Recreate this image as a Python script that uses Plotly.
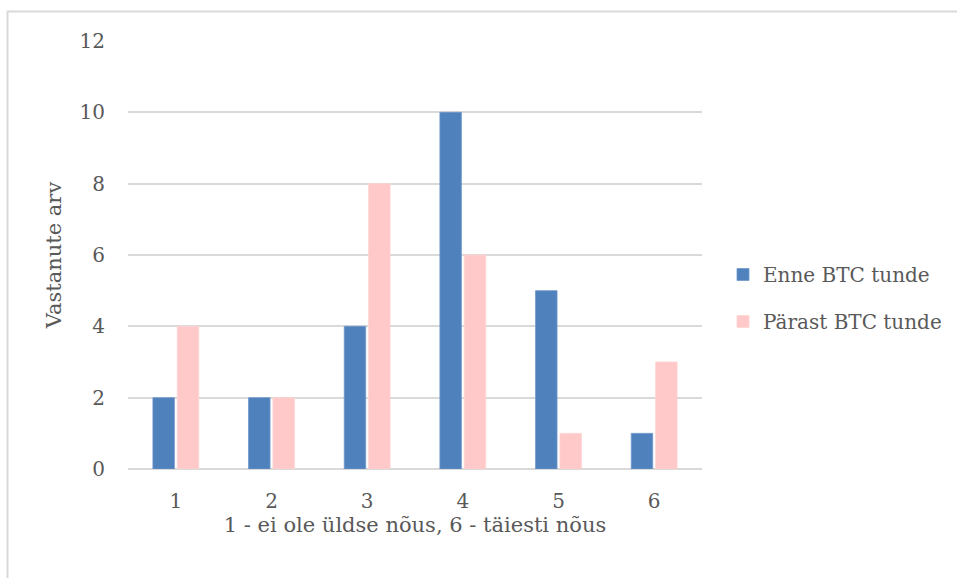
import plotly.graph_objects as go

categories = ["1", "2", "3", "4", "5", "6"]
enne = [2, 2, 4, 10, 5, 1]
parast = [4, 2, 8, 6, 1, 3]
series_names = ["Enne BTC tunde", "Pärast BTC tunde"]
y_ticks = [0, 2, 4, 6, 8, 10, 12]

W, H = 957, 578
L, R, T, B = 128, 702, 41, 469
FONT = "DejaVu Serif"
TXT = "#595959"

fig = go.Figure()
fig.add_trace(go.Bar(x=categories, y=enne, name=series_names[0], legendgroup="a",
                     marker=dict(color="#4f81bd", line=dict(color="#6f97cc", width=0.8))))
fig.add_trace(go.Bar(x=categories, y=parast, name=series_names[1], legendgroup="b",
                     marker=dict(color="#ffc9c9", line=dict(color="#ffd3d3", width=0.8))))

pw = R - L
ph = B - T
fig.update_layout(
    width=W, height=H,
    margin=dict(l=L, r=W - R, t=T, b=H - B, pad=0, autoexpand=False),
    paper_bgcolor="white", plot_bgcolor="white",
    barmode="group", bargap=0.49, bargroupgap=0.12,
    font=dict(family=FONT, size=20, color=TXT),
    showlegend=True,
    legend=dict(x=(723 - L) / pw, xanchor="left", y=(B - 298) / ph, yanchor="middle",
                font=dict(family=FONT, size=20, color=TXT), tracegroupgap=18,
                bgcolor="rgba(0,0,0,0)"),
    xaxis=dict(title=dict(text="1 - ei ole üldse nõus, 6 - täiesti nõus", standoff=0,
                          font=dict(family=FONT, size=21, color=TXT)),
               showgrid=False, zeroline=False, showline=False, ticks="",
               tickfont=dict(family=FONT, size=20, color=TXT), ticklabelstandoff=18),
    yaxis=dict(title=dict(text="Vastanute arv", standoff=12,
                          font=dict(family=FONT, size=21, color=TXT)),
               range=[0, 12], tickvals=y_ticks, showgrid=True, gridcolor="#d9d9d9", gridwidth=1.5,
               zeroline=False, showline=False, ticks="",
               tickfont=dict(family=FONT, size=20, color=TXT), ticklabelstandoff=22),
)
fig.add_shape(type="line", xref="paper", yref="paper", x0=0, x1=1, y0=0, y1=0,
              line=dict(color="#d9d9d9", width=2), layer="below")
fig.add_shape(type="rect", xref="paper", yref="paper",
              x0=(7.5 - L) / pw, x1=(W + 20 - L) / pw,
              y0=(B - (H + 20)) / ph, y1=(B - 11.5) / ph,
              line=dict(color="#d9d9d9", width=2), fillcolor="rgba(0,0,0,0)")
fig.write_html("out.html", config={"displayModeBar": False},
               post_script="document.body.style.margin='0';")
